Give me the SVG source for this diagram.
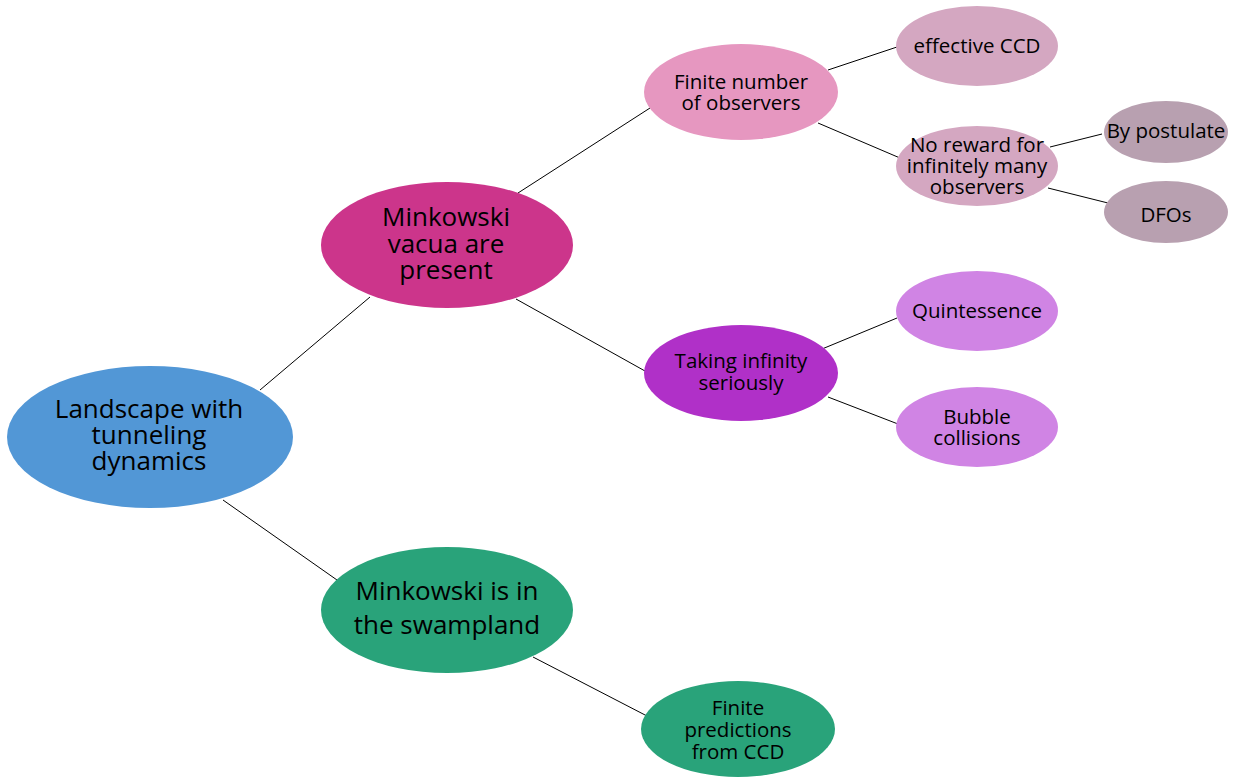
<svg xmlns="http://www.w3.org/2000/svg" width="1239" height="778" viewBox="0 0 1239 778">
<style>
text{font-family:"Open Sans","Noto Sans","DejaVu Sans",sans-serif;fill:#000;text-anchor:middle;dominant-baseline:central}
.l{font-size:26px}.m{font-size:20.5px}.s{font-size:20.5px}
#edges line{stroke:#000;stroke-width:1}
</style>
<rect width="1239" height="778" fill="#fff"/>
<g id="edges">
<line x1="260" y1="390" x2="370" y2="297"/>
<line x1="223" y1="500" x2="337" y2="580"/>
<line x1="518" y1="193" x2="650" y2="108"/>
<line x1="516" y1="299" x2="645" y2="371"/>
<line x1="533" y1="657" x2="647" y2="716"/>
<line x1="828" y1="70" x2="897" y2="47"/>
<line x1="818" y1="123" x2="900" y2="158"/>
<line x1="1050" y1="147" x2="1102" y2="134"/>
<line x1="1048" y1="188" x2="1108" y2="203"/>
<line x1="822" y1="349" x2="897" y2="318"/>
<line x1="828" y1="397" x2="898" y2="424"/>
</g>
<g id="landscape"><ellipse cx="150" cy="437" rx="143" ry="71" fill="#5297d6"/>
<text class="l" x="149" y="408">Landscape with</text><text class="l" x="149" y="434">tunneling</text><text class="l" x="149" y="460">dynamics</text></g>
<g id="vacua"><ellipse cx="447" cy="245" rx="126" ry="63" fill="#cc358b"/>
<text class="l" x="446" y="216">Minkowski</text><text class="l" x="446" y="243">vacua are</text><text class="l" x="446" y="269">present</text></g>
<g id="swamp"><ellipse cx="447" cy="610" rx="126" ry="63" fill="#29a37a"/>
<text class="l" x="447" y="590">Minkowski is in</text><text class="l" x="447" y="624">the swampland</text></g>
<g id="finitenum"><ellipse cx="741" cy="92" rx="97" ry="48" fill="#e697c0"/>
<text class="m" x="741" y="81">Finite number</text><text class="m" x="741" y="102">of observers</text></g>
<g id="taking"><ellipse cx="741" cy="373" rx="97" ry="48" fill="#b030c8"/>
<text class="m" x="741" y="360">Taking infinity</text><text class="m" x="741" y="382">seriously</text></g>
<g id="finitepred"><ellipse cx="738" cy="729" rx="97" ry="48" fill="#29a37a"/>
<text class="m" x="738" y="707">Finite</text><text class="m" x="738" y="729">predictions</text><text class="m" x="738" y="751">from CCD</text></g>
<g id="effective"><ellipse cx="977" cy="46" rx="81" ry="40" fill="#d4a7c1"/>
<text class="s" x="977" y="45">effective CCD</text></g>
<g id="noreward"><ellipse cx="977" cy="166" rx="81" ry="40" fill="#d4a7c1"/>
<text class="s" x="977" y="144">No reward for</text><text class="s" x="977" y="165">infinitely many</text><text class="s" x="977" y="186">observers</text></g>
<g id="quint"><ellipse cx="977" cy="311" rx="81" ry="40" fill="#d084e4"/>
<text class="s" x="977" y="310">Quintessence</text></g>
<g id="bubble"><ellipse cx="977" cy="427" rx="81" ry="40" fill="#d084e4"/>
<text class="s" x="977" y="416">Bubble</text><text class="s" x="977" y="437">collisions</text></g>
<g id="postulate"><ellipse cx="1166" cy="132" rx="62" ry="31" fill="#b8a0b0"/>
<text class="s" x="1166" y="130">By postulate</text></g>
<g id="dfos"><ellipse cx="1166" cy="212" rx="62" ry="31" fill="#b8a0b0"/>
<text class="s" x="1166" y="214">DFOs</text></g>
</svg>
